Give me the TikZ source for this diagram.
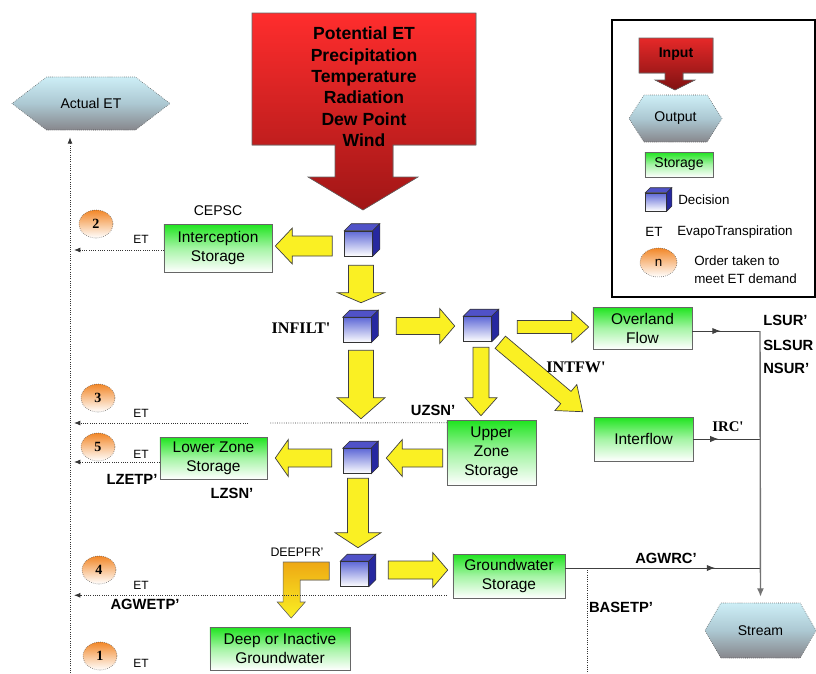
\documentclass[tikz,border=0pt]{standalone}
\usepackage{fontspec}
\setmainfont{Liberation Sans}
\newfontfamily\serifnum{Liberation Serif}
\usetikzlibrary{calc, arrows.meta, shapes.geometric, shapes.symbols, decorations.markings}

\definecolor{stoGreen}{RGB}{30,228,30}
\definecolor{hexTop}{RGB}{205,238,246}
\definecolor{hexMid}{RGB}{172,200,210}
\definecolor{hexBot}{RGB}{135,135,140}
\definecolor{inRedTop}{RGB}{255,45,45}
\definecolor{inRedBot}{RGB}{160,22,22}
\definecolor{arrYellow}{RGB}{250,240,35}
\definecolor{deepOrange}{RGB}{238,168,20}
\definecolor{ordOrange}{RGB}{242,135,40}
\definecolor{cubeFront}{RGB}{95,105,215}
\definecolor{cubeTop}{RGB}{80,82,200}
\definecolor{cubeSide}{RGB}{38,40,160}

\tikzset{
  storage/.style={rectangle, draw=black!60, top color=stoGreen, bottom color=white, middle color=stoGreen!40!white, align=center, inner sep=1pt, font=\fontsize{11}{13.5}\selectfont},
  outflow/.style={signal, signal to=east and west, draw=black!70, densely dotted, top color=hexTop, bottom color=hexBot, middle color=hexMid, inner sep=0pt, font=\fontsize{10}{12}\selectfont},
  decision/.style={rectangle, draw=black!80, top color=cubeFront, bottom color=white, minimum width=0.7cm, minimum height=0.625cm, inner sep=0pt},
  order/.style={ellipse, draw=black!70, densely dotted, top color=ordOrange, bottom color=white, minimum width=0.85cm, minimum height=0.7cm, inner sep=0pt, font=\serifnum\bfseries\fontsize{10}{12}\selectfont},
  yarrow/.style={fill=arrYellow, draw=black!75, line width=0.5pt},
  param/.style={inner sep=0pt, font=\bfseries\fontsize{10.5}{12}\selectfont},
  bigparam/.style={inner sep=0pt, font=\serifnum\bfseries\fontsize{11.5}{13}\selectfont},
  etlbl/.style={inner sep=0pt, font=\fontsize{8.5}{10}\selectfont},
  legtxt/.style={inner sep=0pt, font=\fontsize{9.5}{12.8}\selectfont},
  etdots/.style={densely dotted, draw=black!80, line width=0.6pt},
  etline/.style={etdots, -{Latex[length=4.5pt,width=3.5pt]}},
  flowline/.style={draw=black!75, line width=0.7pt},
  midarrow/.style={postaction={decorate, decoration={markings, mark=at position #1 with {\arrow{Latex[length=6pt,width=4.5pt]}}}}}
}

\newcommand{\blockarrow}[6][yarrow]{%
  \pgfmathsetlengthmacro{\bsw}{#2*0.025cm}%
  \pgfmathsetlengthmacro{\bhw}{#3*0.025cm}%
  \pgfmathsetlengthmacro{\bhl}{#4*0.025cm}%
  \path #5 coordinate (ba-s) #6 coordinate (ba-e);
  \path ($(ba-e)!\bhl!(ba-s)$) coordinate (ba-h);
  \filldraw[#1] ($(ba-s)!\bsw!90:(ba-e)$) -- ($(ba-h)!\bsw!-90:(ba-s)$) -- ($(ba-h)!\bhw!-90:(ba-s)$) -- (ba-e) -- ($(ba-h)!\bhw!90:(ba-s)$) -- ($(ba-h)!\bsw!90:(ba-s)$) -- ($(ba-s)!\bsw!-90:(ba-e)$) -- cycle;}

\begin{document}
\begin{tikzpicture}[x=0.025cm, y=-0.025cm]
\useasboundingbox (0,0) rectangle (816,673);

% input block
\filldraw[top color=inRedTop, bottom color=inRedBot, draw=black!60] (252,13) -- (476,13) -- (476,145) -- (393,145) -- (393,177) -- (418,177) -- (363,210) -- (308,177) -- (335,177) -- (335,145) -- (252,145) -- cycle;
\node[align=center, inner sep=0pt, font=\bfseries\fontsize{12.5}{15.2}\selectfont] (inp) at (364,87) {Potential ET\\Precipitation\\Temperature\\Radiation\\Dew Point\\Wind};

\node[outflow, signal pointer angle=75, minimum width=3.95cm, minimum height=1.325cm] (aet) at (91,103.5) {Actual ET};
\node[outflow, signal pointer angle=120, minimum width=2.775cm, minimum height=1.375cm] (stream) at (760.5,630.5) {Stream};

\node[decision] (d1) at (358.5,243.5) {};
\node[decision] (d2) at (357,330) {};
\node[decision] (d3) at (477.5,329) {};
\node[decision] (d4) at (357,461) {};
\node[decision] (d5) at (354.5,574) {};

\node[storage, minimum width=2.7cm, minimum height=1.2cm] (cepsc) at (218,248) {Interception\\Storage};
\node[storage, minimum width=2.475cm, minimum height=1.05cm] (ovl) at (642.5,328) {Overland\\Flow};
\node[storage, minimum width=2.475cm, minimum height=1.1cm] (itf) at (643.5,439) {Interflow};
\node[storage, minimum width=2.225cm, minimum height=1.625cm] (uzs) at (491.5,452.5) {Upper\\Zone\\Storage};
\node[storage, minimum width=2.675cm, minimum height=1.05cm] (lzs) at (213.5,458) {Lower Zone\\Storage};
\node[storage, minimum width=2.8cm, minimum height=1.1cm] (gws) at (509,576) {Groundwater\\Storage};
\node[storage, minimum width=3.5cm, minimum height=1.075cm] (dig) at (280,648.5) {Deep or Inactive\\Groundwater};

\blockarrow{10}{18}{17}{($(d1.west |- cepsc.east)+(-12,-2)$)}{($(cepsc.east)+(3,-2)$)}
\blockarrow{12.5}{23.5}{10}{($(d1.south)+(2.5,9)$)}{($(d2.north)+(4,-14.5)$)}
\blockarrow{12.5}{24}{21}{($(d2.south)+(4,7.5)$)}{($(d4.north)+(4,-29.5)$)}
\blockarrow{8.5}{17.5}{15}{($(d2.east)+(25,-4)$)}{($(d3.west)+(-8.5,-3)$)}
\blockarrow{6.5}{15.5}{17}{($(d3.east)+(25.5,-2)$)}{($(ovl.west)+(-4,-1)$)}
\blockarrow{8}{16}{18}{($(d3.south)+(3.5,5.5)$)}{($(uzs.north)+(-10.5,-4)$)}
\blockarrow{8}{17}{22}{($(d3.south east)+(8.5,0.5)$)}{($(itf.north west)+(-11,-5)$)}
\blockarrow{9}{18.5}{16}{($(uzs.west)+(-4,5.5)$)}{($(d4.east)+(15,-3)$)}
\blockarrow{9}{18.5}{13}{($(d4.west)+(-11,-3)$)}{($(lzs.east)+(8,0)$)}
\blockarrow{10.5}{23}{15}{($(d4.south)+(1,4.5)$)}{($(d5.north)+(3.5,-13.5)$)}
\blockarrow{9}{17.5}{15}{($(d5.east)+(19.5,-4)$)}{($(gws.west)+(-5,-6)$)}
\filldraw[top color=deepOrange, bottom color=arrYellow, draw=black!60] ($(d5.west)+(-11,-12)$) -- ++(-46,0) -- ++(0,40) -- ++(-6,0) -- ++(14,16) -- ++(14,-16) -- ++(-5,0) -- ++(0,-22) -- ++(29,0) -- cycle;

% cube faces
\node[decision, minimum width=0.525cm, minimum height=0.45cm] (lgcube) at (656,202) {};
\foreach \d/\k in {d1/7, d2/7, d3/7, d4/7, d5/7, lgcube/5} {
  \filldraw[fill=cubeTop, draw=black!80] (\d.north west) -- ++(\k,-\k) -- ($(\d.north east)+(\k,-\k)$) -- (\d.north east) -- cycle;
  \filldraw[fill=cubeSide, draw=black!80] (\d.north east) -- ++(\k,-\k) -- ($(\d.south east)+(\k,-\k)$) -- (\d.south east) -- cycle;
}

% evapotranspiration
\coordinate (etbase) at (70,673);
\coordinate (g3) at (270,423);
\draw[etline] (etbase) -- ($(aet.south -| etbase)+(0,7)$);
\draw[etline] ($(cepsc.west)+(0,2)$) -- ($(cepsc.west -| etbase)+(4,2)$);
\draw[etdots] ($(uzs.north west)+(0,3)$) -- (g3);
\draw[etline] ($(g3)+(-22,0)$) -- ($(g3 -| etbase)+(4,0)$);
\draw[etline] ($(lzs.west)+(0,4)$) -- ($(lzs.west -| etbase)+(4,4)$);
\draw[etline] ($(gws.south west)+(-6,-3)$) -- ($(gws.south west -| etbase)+(4,-3)$);
\draw[etdots] ($(gws.east)+(22,-6)$) -- ++(0,110);

\node[order] (o2) at (96,224) {2};
\node[order] (o3) at (98,398) {3};
\node[order] (o5) at (98,447) {5};
\node[order] (o4) at (99,570) {4};
\node[order] (o1) at (100,656) {1};
\foreach \n/\y in {e2/239, e3/413, e5/454, e4/585, e1/663}
  \node[etlbl] (\n) at (141,\y) {ET};

% runoff to stream
\coordinate (jn) at (760,331);
\draw[flowline, midarrow=0.42] ($(ovl.east)+(0,3)$) -- (jn);
\draw[flowline, midarrow=0.38] (itf.east) -- (itf.east -| jn);
\draw[flowline, midarrow=0.77] ($(gws.east)+(0,-8)$) -- ($(gws.east -| jn)+(0,-8)$);
\draw[draw=black!55, line width=1pt, -{Latex[length=6pt,width=5pt]}, shorten >=0.15cm] (jn) -- (stream.north);

\node[inner sep=0pt, font=\fontsize{10}{12}\selectfont] (cepscl) at (218,211) {CEPSC};
\node[bigparam] (infilt) at (301,328) {INFILT'};
\node[bigparam] (intfw) at (576,367) {INTFW'};
\node[param] (uzsn) at (433,410) {UZSN'};
\node[param] (lzetp) at (132,479) {LZETP'};
\node[param] (lzsn) at (232,493) {LZSN'};
\node[inner sep=0pt, font=\fontsize{8.8}{10}\selectfont] (deepfr) at (297,552) {DEEPFR'};
\node[param] (agwetp) at (145,604) {AGWETP'};
\node[param] (agwrc) at (666,558) {AGWRC'};
\node[param] (basetp) at (621,607) {BASETP'};
\node[inner sep=0pt, font=\serifnum\bfseries\fontsize{10.5}{12}\selectfont] (irc) at (728,427) {IRC'};
\node[param, anchor=west] (lsur) at (763,320) {LSUR'};
\node[param, anchor=west] (slsur) at (763,345) {SLSUR};
\node[param, anchor=west] (nsur) at (763,368) {NSUR'};

% legend
\node[draw=black, line width=0.9pt, minimum width=5.075cm, minimum height=6.925cm] (legend) at (713.5,158.5) {};
\filldraw[top color=inRedTop!90!black, bottom color=inRedBot!80!black, draw=black!60] (639,38) -- (713,38) -- (713,73) -- (683,73) -- (683,80) -- (695,80) -- (675,90) -- (655,80) -- (665,80) -- (665,73) -- (639,73) -- cycle;
\node[inner sep=0pt, font=\bfseries\fontsize{10}{12}\selectfont] (lginp) at (676,54) {Input};
\node[outflow, signal pointer angle=115, minimum width=2.325cm, minimum height=1.175cm] (lgout) at (675.5,118.5) {Output};
\node[storage, minimum width=1.7cm, minimum height=0.625cm, font=\fontsize{10}{12}\selectfont] (lgsto) at (679,164.5) {Storage};
\node[legtxt, anchor=west] (lgdec) at (678,200) {Decision};
\node[legtxt] (lget) at (654,232) {ET};
\node[legtxt, anchor=west] (lgevt) at (677,232) {EvapoTranspiration};
\node[order, minimum width=0.925cm, minimum height=0.725cm, font=\fontsize{9.5}{11}\selectfont] (lgord) at (658.5,262.5) {n};
\node[legtxt, anchor=west, align=left] (lgordtxt) at (694,270) {Order taken to\\meet ET demand};

\end{tikzpicture}
\end{document}
